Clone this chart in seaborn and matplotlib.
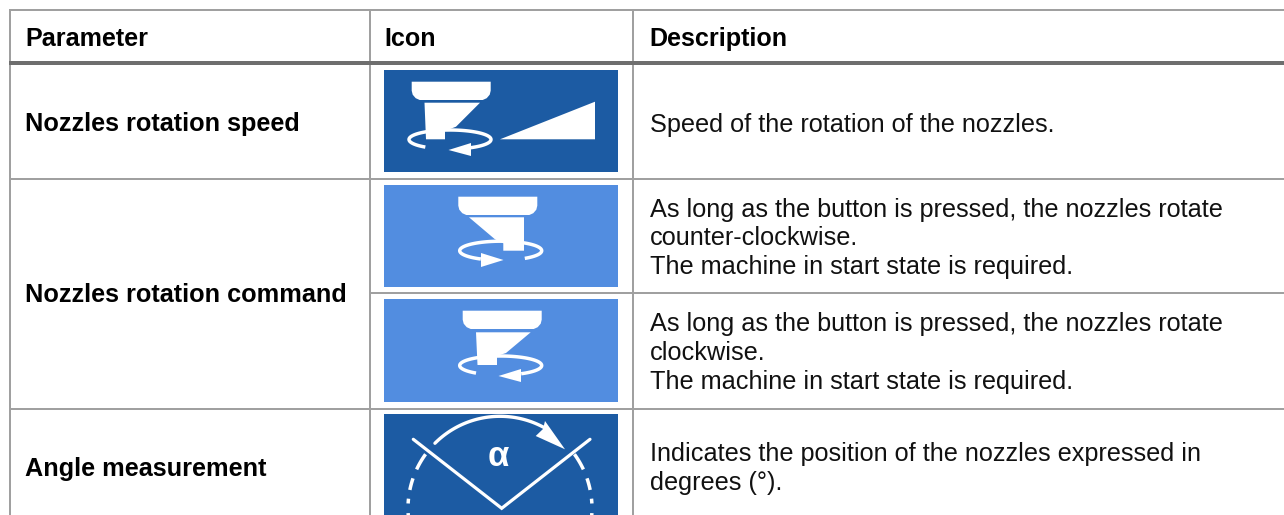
import numpy as np
import pandas as pd
import matplotlib
matplotlib.use("Agg")
import matplotlib.pyplot as plt
from matplotlib.patches import Rectangle
import seaborn as sns

# ---- table content ----
headers = ["Parameter", "Icon", "Description"]
parameters = ["Nozzles rotation speed", "Nozzles rotation command", "Angle measurement"]
descriptions = [
    ["Speed of the rotation of the nozzles."],
    ["As long as the button is pressed, the nozzles rotate", "counter-clockwise.", "The machine in start state is required."],
    ["As long as the button is pressed, the nozzles rotate", "clockwise.", "The machine in start state is required."],
    ["Indicates the position of the nozzles expressed in", "degrees (°)."],
]
icon_colors = ["#1c5ba3", "#528de0", "#528de0", "#1c5ba3"]

W, H = 1284, 515
GRID = "#a0a0a0"
HEAD = "#6e6e6e"

sns.set_theme(style="white")
plt.rcParams["font.family"] = ["Liberation Sans", "DejaVu Sans"]

fig = plt.figure(figsize=(W / 100, H / 100), dpi=100, facecolor="white")
ax = fig.add_axes([0, 0, 1, 1])
ax.set_xlim(0, W)
ax.set_ylim(H, 0)
ax.set_axis_off()


def rule(x0, y0, x1, y1, color=GRID, px=2):
    df = pd.DataFrame({"x": [x0, x1], "y": [y0, y1], "s": [0, 0]})
    sns.lineplot(data=df, x="x", y="y", units="s", estimator=None, sort=False, ax=ax,
                 color=color, linewidth=px * 0.72, legend=False, solid_capstyle="butt", zorder=2)


# grid
rule(9, 10, W, 10)
rule(10, 9, 10, H)
rule(369.5, 9, 369.5, H)
rule(633, 9, 633, H)
rule(10, 178.8, W, 178.8)
rule(371, 293, W, 293)
rule(10, 409, W, 409)
rule(9, 63, W, 63, color=HEAD, px=4)

# header + parameter text
for s, x in zip(headers, [25, 384, 649.5]):
    ax.text(x, 46, s, fontsize=18.1, fontweight="bold", color="#000000", va="baseline", ha="left")
for s, y in zip(parameters, [131, 302.5, 476]):
    ax.text(25, y, s, fontsize=18.15, fontweight="bold", color="#000000", va="baseline", ha="left")

# descriptions
LINE = 28.7
starts = [131.7, 216.5, 331.5, 461.5]
for lines, y0 in zip(descriptions, starts):
    for i, s in enumerate(lines):
        ax.text(649.5, y0 + i * LINE, s, fontsize=18.15, color="#111111", va="baseline", ha="left")

# icon tiles
tiles = [(70, 172), (185, 287), (299, 402), (414, 530)]
for (y0, y1), c in zip(tiles, icon_colors):
    ax.add_patch(Rectangle((384, y0), 233.5, y1 - y0, facecolor=c, edgecolor="none", zorder=3))


def poly(pts, color="white", z=5):
    ax.fill(*zip(*pts), color=color, lw=0, zorder=z)


def ring(cx, cy, a0, a1, rx=41, ry=9.5, lw=2.5):
    t = np.radians(np.linspace(a0, a1, 80))
    ax.plot(cx + rx * np.cos(t), cy + ry * np.sin(t), color="white", lw=lw, zorder=4,
            solid_capstyle="butt")


def head(x0, y0):
    poly([(x0, y0), (x0 + 79, y0), (x0 + 79, y0 + 9), (x0 + 78, y0 + 13), (x0 + 75, y0 + 16.5), (x0 + 71, y0 + 18.3),
          (x0 + 8, y0 + 18.3), (x0 + 4, y0 + 16.5), (x0 + 1, y0 + 13), (x0, y0 + 9)])


# icon 1: speed
ring(450, 139.5, 127, 420)
head(411.7, 81.7)
poly([(424.5, 102.7), (480, 102.7), (456, 126.7), (445, 131), (445, 139.3), (426, 139.3)])
poly([(448.5, 150), (471, 143), (471, 156)])
poly([(500, 139.3), (595, 101.7), (595, 139.3)])

# icon 2: counter-clockwise
ring(500.7, 250.7, 119, 414)
head(458.3, 196.7)
poly([(469, 217.3), (524, 217.3), (524, 250.7), (503.3, 250.7), (503.3, 243.3), (495, 239.3)])
poly([(503.5, 260), (481, 253), (481, 267)])

# icon 3: clockwise
ring(500.7, 365.5, 127, 420)
head(462.7, 310.7)
poly([(476, 332.3), (530.7, 332.3), (506, 353), (497, 356), (497, 365), (477.5, 365)])
poly([(498.5, 376), (521, 369), (521, 382)])

# icon 4: angle
ax.plot([413.3, 501.7, 590], [439.3, 508.3, 439.3], color="white", lw=2.3, zorder=4, solid_joinstyle="miter")
t = np.radians(np.linspace(225, 300, 60))
ax.plot(500 + 92 * np.cos(t), 508.3 + 92 * np.sin(t), color="white", lw=2.4, zorder=4)
poly([(565, 449.3), (545, 421), (543, 429), (535.7, 436)])
for a0, a1 in [(144, 155), (161, 168.5), (174, 177), (183, 190)]:
    t = np.radians(np.linspace(a0, a1, 12))
    for sign in (-1, 1):
        ax.plot(500 + sign * 92 * np.cos(t), 508.3 - 92 * np.sin(t),
                color="white", lw=2.5, zorder=4, solid_capstyle="butt")
ax.text(498.5, 466.5, "α", fontsize=25, fontweight="bold", color="white", ha="center", va="baseline",
        zorder=6, family=["Liberation Sans"])

ax.set_xlim(0, W)
ax.set_ylim(H, 0)
ax.set_xlabel("")
ax.set_ylabel("")
fig.savefig("out.png", dpi=100, facecolor="white")
